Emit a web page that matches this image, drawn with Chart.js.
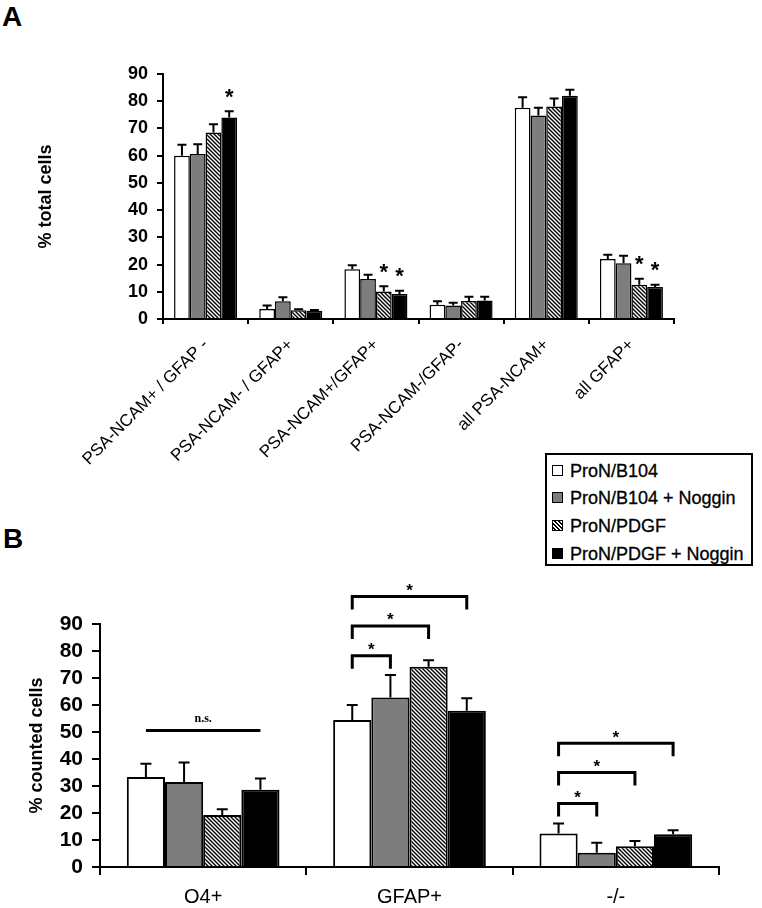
<!DOCTYPE html>
<html><head><meta charset="utf-8">
<script src="https://cdn.jsdelivr.net/npm/chart.js@4.4.0/dist/chart.umd.min.js"></script>
<style>
html,body{margin:0;padding:0;background:#fff;width:762px;height:908px;overflow:hidden;font-family:"Liberation Sans",Arial,sans-serif;}
#wrapA{position:absolute;left:0;top:0;width:762px;height:530px;}
#wrapB{position:absolute;left:0;top:570px;width:762px;height:338px;}
.plabel{position:absolute;font-weight:bold;font-size:28px;line-height:28px;color:#000;}
#legend{position:absolute;left:545px;top:453px;width:204px;height:109px;border:2px solid #000;background:#fff;z-index:5;}
.row{position:absolute;left:5px;height:22px;line-height:22px;font-size:18px;color:#000;white-space:nowrap;-webkit-text-stroke:0.3px #000;}
.sw{display:inline-block;width:9px;height:9px;border:1px solid #000;vertical-align:middle;margin-right:7px;position:relative;top:-2px;}
</style></head>
<body>
<div class="plabel" style="left:2px;top:3px;">A</div>
<div class="plabel" style="left:3px;top:525px;">B</div>
<div id="wrapA"><canvas id="chartA" width="762" height="530"></canvas></div>
<div id="wrapB"><canvas id="chartB" width="762" height="338"></canvas></div>
<div id="legend">
  <div class="row" style="top:5px;"><span class="sw" style="background:#fff"></span>ProN/B104</div>
  <div class="row" style="top:32px;"><span class="sw" style="background:#7d7d7d"></span>ProN/B104 + Noggin</div>
  <div class="row" style="top:60px;"><span class="sw" style="background:repeating-linear-gradient(45deg,#fff 0px,#fff 1.4px,#000 1.4px,#000 2.8px)"></span>ProN/PDGF</div>
  <div class="row" style="top:88px;"><span class="sw" style="background:#000"></span>ProN/PDGF + Noggin</div>
</div>
<script>
// ---------- data ----------
const seriesNames = ["ProN/B104", "ProN/B104 + Noggin", "ProN/PDGF", "ProN/PDGF + Noggin"];

// Panel A
const catsA = ["PSA-NCAM+ / GFAP -", "PSA-NCAM- / GFAP+", "PSA-NCAM+/GFAP+", "PSA-NCAM-/GFAP-", "all PSA-NCAM+", "all GFAP+"];
const aB104       = [60.0, 3.7, 18.3, 5.2, 77.6, 22.0];
const aB104Err    = [4.0, 1.3, 1.4, 1.3, 3.9, 1.6];
const aB104Nog    = [60.6, 6.5, 14.7, 5.0, 74.8, 20.5];
const aB104NogErr = [3.6, 1.5, 1.6, 1.0, 2.8, 2.7];
const aPDGF       = [68.5, 3.2, 10.1, 6.6, 78.1, 12.6];
const aPDGFErr    = [3.0, 0.4, 1.9, 1.6, 2.9, 2.2];
const aPDGFNog    = [74.0, 3.0, 9.2, 6.8, 82.0, 11.8];
const aPDGFNogErr = [2.3, 0.3, 1.2, 1.4, 2.2, 0.8];
const aSigPDGF    = [false, false, true, false, false, true];
const aSigPDGFNog = [true, false, true, false, false, true];
const ticksA = [0, 10, 20, 30, 40, 50, 60, 70, 80, 90];

// Panel B
const catsB = ["O4+", "GFAP+", "-/-"];
const bB104       = [33.3, 54.4, 12.4];
const bB104Err    = [4.9, 5.6, 3.7];
const bB104Nog    = [31.5, 62.8, 5.3];
const bB104NogErr = [7.2, 8.3, 3.7];
const bPDGF       = [19.3, 74.2, 7.7];
const bPDGFErr    = [2.1, 2.4, 1.9];
const bPDGFNog    = [28.6, 57.9, 12.1];
const bPDGFNogErr = [4.2, 4.6, 1.5];
const ticksB = [0, 10, 20, 30, 40, 50, 60, 70, 80, 90];
// comparison brackets: category index, target series, level (value)
const bracketCat   = [1, 1, 1, 2, 2, 2];
const bracketTo    = [1, 2, 3, 1, 2, 3];
const bracketLevel = [78.2, 89.3, 100.2, 23.5, 35.0, 45.8];
const nsCat = 0, nsFrom = 0, nsTo = 3, nsLevel = 50.6, nsLabel = "n.s.";

// ---------- styling ----------
const FONT = '"Liberation Sans", Arial, sans-serif';
function makeHatch(size, lw) {
  const c = document.createElement('canvas');
  c.width = size; c.height = size;
  const g = c.getContext('2d');
  g.fillStyle = '#fff'; g.fillRect(0, 0, size, size);
  g.strokeStyle = '#000'; g.lineWidth = lw; g.lineCap = 'square';
  g.beginPath();
  g.moveTo(-1, -1); g.lineTo(size + 1, size + 1);
  g.moveTo(-1, size - 1); g.lineTo(1, size + 1);
  g.moveTo(size - 1, -1); g.lineTo(size + 1, 1);
  g.stroke();
  return document.createElement('canvas').getContext('2d').createPattern(c, 'repeat');
}
const hatch = makeHatch(4, 1.4);
const fills = ['#ffffff', '#7d7d7d', hatch, '#000000'];

function starAt(ctx, x, cy, size) {
  ctx.font = 'bold ' + size + 'px ' + FONT;
  ctx.textAlign = 'center'; ctx.textBaseline = 'alphabetic';
  const m = ctx.measureText('*');
  const asc = m.actualBoundingBoxAscent, desc = m.actualBoundingBoxDescent;
  ctx.fillText('*', x, cy + (asc - desc) / 2);
}

const overlay = {
  id: 'overlay',
  afterDatasetsDraw(chart, args, opts) {
    const ctx = chart.ctx, ys = chart.scales.y;
    ctx.save();
    ctx.fillStyle = '#000'; ctx.strokeStyle = '#000';
    chart.data.datasets.forEach((ds, di) => {
      const meta = chart.getDatasetMeta(di);
      meta.data.forEach((bar, i) => {
        const v = ds.data[i], e = ds.err[i];
        const x = bar.x, yTop = ys.getPixelForValue(v), yE = ys.getPixelForValue(v + e);
        ctx.lineWidth = opts.errWidth;
        ctx.beginPath();
        ctx.moveTo(x, yTop); ctx.lineTo(x, yE);
        ctx.moveTo(x - opts.cap / 2, yE); ctx.lineTo(x + opts.cap / 2, yE);
        ctx.stroke();
        if (ds.sig && ds.sig[i]) starAt(ctx, x, yE - opts.starGap, opts.starSize);
      });
    });
    if (opts.brackets) {
      const br = opts.brackets;
      ctx.lineWidth = 3; ctx.lineCap = 'butt';
      for (let k = 0; k < br.cat.length; k++) {
        const x1 = chart.getDatasetMeta(0).data[br.cat[k]].x;
        const x2 = chart.getDatasetMeta(br.to[k]).data[br.cat[k]].x;
        const y = ys.getPixelForValue(br.level[k]);
        ctx.beginPath();
        ctx.moveTo(x1, y + opts.leg); ctx.lineTo(x1, y); ctx.lineTo(x2, y); ctx.lineTo(x2, y + opts.leg);
        ctx.stroke();
        starAt(ctx, (x1 + x2) / 2, y - 9, 17);
      }
    }
    if (opts.ns) {
      const ns = opts.ns;
      const x1 = chart.getDatasetMeta(ns.from).data[ns.cat].x;
      const x2 = chart.getDatasetMeta(ns.to).data[ns.cat].x;
      const y = ys.getPixelForValue(ns.level);
      ctx.lineWidth = 3;
      ctx.beginPath(); ctx.moveTo(x1, y); ctx.lineTo(x2, y); ctx.stroke();
      ctx.font = 'bold 12px "Liberation Serif", "Times New Roman", serif';
      ctx.textAlign = 'center'; ctx.textBaseline = 'alphabetic';
      ctx.fillText(ns.label, (x1 + x2) / 2, y - 8);
    }
    ctx.restore();
  }
};

function mkDatasets(vals, errs, sigs, bw) {
  return vals.map((v, i) => ({
    label: seriesNames[i], data: v, err: errs[i], sig: sigs ? sigs[i] : null,
    backgroundColor: fills[i], borderColor: '#000', borderWidth: bw,
    borderSkipped: 'bottom', categoryPercentage: 0.74, barPercentage: 1.0
  }));
}

Chart.defaults.font.family = FONT;
Chart.defaults.color = '#000';

// ---------- Panel A ----------
new Chart(document.getElementById('chartA'), {
  type: 'bar',
  data: {
    labels: catsA,
    datasets: mkDatasets([aB104, aB104Nog, aPDGF, aPDGFNog],
                         [aB104Err, aB104NogErr, aPDGFErr, aPDGFNogErr],
                         [null, null, aSigPDGF, aSigPDGFNog], 1.5)
  },
  options: {
    responsive: false, animation: false, events: [],
    layout: { padding: { top: 74, right: 88, left: 0, bottom: 0 } },
    plugins: {
      legend: { display: false }, tooltip: { enabled: false },
      overlay: { errWidth: 2, cap: 9, starGap: 18, starSize: 22 }
    },
    scales: {
      x: {
        afterFit: s => { s.height = 211; },
        grid: { drawOnChartArea: false, drawTicks: true, tickLength: 5, color: '#000', lineWidth: 2, offset: true },
        border: { color: '#000', width: 2 },
        ticks: { autoSkip: false, minRotation: 45, maxRotation: 45, padding: 11,
                 font: { size: 17, family: FONT }, color: '#000' }
      },
      y: {
        min: 0, max: 90,
        afterFit: s => { s.width = 163; },
        afterBuildTicks: s => { s.ticks = ticksA.map(v => ({ value: v })); },
        grid: { drawOnChartArea: false, drawTicks: true, tickLength: 6, color: '#000', lineWidth: 2 },
        border: { color: '#000', width: 2 },
        ticks: { autoSkip: false, padding: 9, font: { size: 18, weight: 'bold', family: FONT }, color: '#000' },
        title: { display: true, text: '% total cells', padding: { top: 35, bottom: 0 },
                 font: { size: 18, weight: 'bold', family: FONT }, color: '#000' }
      }
    }
  },
  plugins: [overlay]
});

// ---------- Panel B ----------
new Chart(document.getElementById('chartB'), {
  type: 'bar',
  data: {
    labels: catsB,
    datasets: mkDatasets([bB104, bB104Nog, bPDGF, bPDGFNog],
                         [bB104Err, bB104NogErr, bPDGFErr, bPDGFNogErr], null, 2)
  },
  options: {
    responsive: false, animation: false, events: [],
    layout: { padding: { top: 54, right: 43, left: 0, bottom: 0 } },
    plugins: {
      legend: { display: false }, tooltip: { enabled: false },
      overlay: {
        errWidth: 2, cap: 11, starGap: 16, starSize: 16, leg: 13,
        brackets: { cat: bracketCat, to: bracketTo, level: bracketLevel },
        ns: { cat: nsCat, from: nsFrom, to: nsTo, level: nsLevel, label: nsLabel }
      }
    },
    scales: {
      x: {
        afterFit: s => { s.height = 41; },
        grid: { drawOnChartArea: false, drawTicks: true, tickLength: 8, color: '#000', lineWidth: 2, offset: true },
        border: { color: '#000', width: 2 },
        ticks: { autoSkip: false, maxRotation: 0, padding: 10,
                 font: { size: 20, family: FONT }, color: '#000' }
      },
      y: {
        min: 0, max: 90,
        afterFit: s => { s.width = 100; },
        afterBuildTicks: s => { s.ticks = ticksB.map(v => ({ value: v })); },
        grid: { drawOnChartArea: false, drawTicks: true, tickLength: 8, color: '#000', lineWidth: 2 },
        border: { color: '#000', width: 2 },
        ticks: { autoSkip: false, padding: 9, font: { size: 21, weight: 'bold', family: FONT }, color: '#000' },
        title: { display: true, text: '% counted cells', padding: { top: 26, bottom: 0 },
                 font: { size: 18, weight: 'bold', family: FONT }, color: '#000' }
      }
    }
  },
  plugins: [overlay]
});
</script>
</body></html>
